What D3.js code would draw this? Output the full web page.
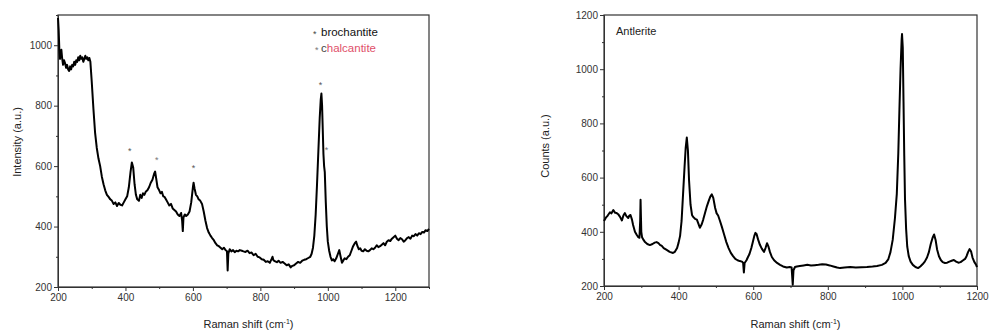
<!DOCTYPE html>
<html>
<head>
<meta charset="utf-8">
<script src="https://cdn.jsdelivr.net/npm/d3@7"></script>
<style>
  body { margin: 0; background: #fff; }
  svg { font-family: "Liberation Sans", Arial, sans-serif; }
  .axis path, .axis line { stroke: #333; }
  .axis text { fill: #333; font-size: 10px; }
</style>
</head>
<body>
<div id="chart"></div>
<script>
// left spectrum (brochantite / chalcantite)
const leftShift = [200,202,204,206,208,210,212,215,218,221,224,227,230,233,236,239,242,245,248,251,254,257,260,263,266,269,272,275,278,281,284,287,290,293,296,
  300,305,310,315,320,325,330,335,340,345,350,355,360,365,370,375,380,385,390,395,400,405,410,415,419,423,427,431,435,440,444,448,452,456,460,465,470,475,480,485,488,491,495,
  500,504,508,512,516,520,525,530,535,540,545,550,555,560,565,568,570,572,576,580,585,590,595,600,602,605,609,613,617,622,627,632,637,642,647,652,657,662,667,672,677,682,687,692,697,
  701,703,705,709,714,719,724,729,734,739,745,750,756,762,768,774,780,786,792,798,804,810,816,822,828,833,836,839,844,849,854,860,866,872,878,884,890,895,
  900,906,912,918,924,930,936,942,948,952,956,960,964,968,972,976,979,981,983,985,987,989,991,994,997,
  1000,1004,1008,1012,1016,1020,1025,1030,1034,1038,1042,1046,1050,1055,1060,1065,1070,1075,1080,1084,1088,1092,1096,
  1100,1105,1110,1115,1120,1125,1130,1135,1140,1145,1150,1155,1160,1165,1170,1175,1180,1185,1190,1195,
  1200,1205,1210,1215,1220,1225,1230,1235,1240,1245,1250,1255,1260,1265,1270,1275,1280,1285,1290,1295,1300];
const leftIntensity = [1090,1050,985,955,975,985,960,935,950,940,925,935,920,915,930,920,935,930,945,935,950,945,960,950,965,955,960,945,955,965,955,960,950,958,945,
  880,790,710,660,625,600,565,540,520,505,498,490,485,475,480,468,478,472,470,480,490,500,530,580,612,595,540,505,490,485,505,495,510,505,515,520,530,545,555,575,582,560,530,
  520,510,515,500,498,490,480,470,475,460,455,450,440,435,445,420,385,430,440,435,440,450,480,530,545,525,505,500,490,485,475,450,420,395,380,370,362,355,345,338,335,330,325,330,322,
  318,255,310,325,318,322,315,320,318,322,320,318,316,320,312,314,305,310,300,298,292,290,283,285,280,292,300,288,285,282,287,280,283,278,272,275,265,270,
  272,278,283,280,287,290,292,296,300,310,330,370,440,540,650,760,820,840,800,720,640,600,580,480,400,
  350,320,300,288,292,285,295,310,322,300,280,288,295,292,300,305,320,335,345,350,335,325,328,
  320,318,325,320,318,322,328,325,330,338,332,335,340,345,338,350,355,352,360,365,
  370,360,355,362,358,350,355,362,365,360,370,368,375,370,378,375,382,380,388,385,392];

// right spectrum (antlerite)
const rightShift = [200,205,210,216,220,225,230,234,238,243,248,252,256,260,265,268,271,275,278,283,288,292,295,297,298,
  300,302,306,310,316,323,330,336,341,346,350,355,360,368,376,385,390,396,400,404,408,412,416,419,422,425,428,432,436,439,444,449,453,457,462,466,471,476,481,485,489,493,498,
  502,506,511,516,522,528,534,540,546,552,558,564,570,573,575,577,582,586,590,595,599,603,606,609,613,618,623,629,633,637,641,645,650,656,664,672,680,690,698,
  703,706,708,712,717,725,735,745,755,765,775,785,795,805,815,825,833,845,860,875,890,
  905,920,932,945,955,962,968,974,980,985,989,992,995,998,999,
  1001,1003,1005,1007,1010,1013,1017,1022,1028,1035,1042,1048,1054,1060,1066,1071,1076,1081,1085,1089,1093,1098,
  1103,1108,1114,1120,1126,1132,1138,1144,1150,1156,1162,1168,1172,1176,1180,1184,1188,1193,1197,1200];
const rightCounts = [440,452,460,472,468,480,470,469,465,455,442,460,469,458,451,460,462,445,425,400,388,380,378,440,518,
  400,380,370,362,355,351,355,360,362,358,352,348,340,333,326,322,326,340,360,385,440,540,640,710,748,700,590,500,462,455,448,445,430,415,428,445,470,495,515,530,538,525,488,
  468,460,440,418,390,362,340,322,310,300,295,292,290,285,250,285,295,307,318,340,362,385,396,392,372,352,338,326,340,358,345,325,307,295,285,278,272,268,270,
  268,205,258,270,272,274,276,278,276,277,278,280,279,276,272,268,266,268,270,268,269,
  270,272,274,278,285,298,325,370,450,540,690,850,1000,1110,1130,
  1080,880,680,520,410,345,310,290,278,270,266,272,280,290,305,325,355,378,390,370,335,310,
  296,288,285,286,290,293,296,290,286,288,294,300,310,325,336,328,305,288,280,270];

const leftXTicks = [200, 400, 600, 800, 1000, 1200];
const leftYTicks = [200, 400, 600, 800, 1000];
const rightXTicks = [200, 400, 600, 800, 1000, 1200];
const rightYTicks = [200, 400, 600, 800, 1000, 1200];

// peak markers [shift, intensity]
const brochantiteMarks = [[413, 656], [602, 600], [978, 874]];
const chalcantiteMarks = [[493, 626], [996, 660]];

const width = 990, height = 333;
const svg = d3.select('#chart').append('svg')
  .attr('width', width)
  .attr('height', height);

function drawPanel(opt) {
  const w = opt.right - opt.left;
  const h = opt.bottom - opt.top;

  const x = d3.scaleLinear().domain(opt.xDomain).range([0, w]);
  const y = d3.scaleLinear().domain(opt.yDomain).range([h, 0]);

  const g = svg.append('g')
    .attr('transform', 'translate(' + opt.left + ',' + opt.top + ')');

  // minor ticks
  const minorX = d3.range(opt.xDomain[0], opt.xDomain[1] + 1, 100).filter(v => opt.xTicks.indexOf(v) < 0);
  const minorY = d3.range(opt.yDomain[0], opt.yDomain[1] + 1, 100).filter(v => opt.yTicks.indexOf(v) < 0);

  g.append('g')
    .attr('class', 'axis')
    .attr('transform', 'translate(0,' + h + ')')
    .call(d3.axisBottom(x).tickValues(minorX).tickSize(2).tickFormat('').tickSizeOuter(0));
  g.append('g')
    .attr('class', 'axis')
    .call(d3.axisLeft(y).tickValues(minorY).tickSize(2).tickFormat('').tickSizeOuter(0));

  // major axes
  g.append('g')
    .attr('class', 'axis')
    .attr('transform', 'translate(0,' + h + ')')
    .call(d3.axisBottom(x).tickValues(opt.xTicks).tickFormat(d3.format('d'))
      .tickSize(4).tickSizeOuter(0).tickPadding(3));
  g.append('g')
    .attr('class', 'axis')
    .call(d3.axisLeft(y).tickValues(opt.yTicks).tickFormat(d3.format('d'))
      .tickSize(4).tickSizeOuter(0).tickPadding(2));

  // frame
  g.append('rect')
    .attr('width', w)
    .attr('height', h)
    .attr('fill', 'none')
    .attr('stroke', '#333')
    .attr('stroke-width', 1.2);

  const line = d3.line()
    .x((d, i) => x(opt.xs[i]))
    .y(d => y(d));

  g.append('path')
    .datum(opt.ys)
    .attr('fill', 'none')
    .attr('stroke', '#000')
    .attr('stroke-width', 2)
    .attr('stroke-linejoin', 'round')
    .attr('d', line);

  // axis titles
  const xt = svg.append('text')
    .attr('x', opt.left + w / 2 + 5)
    .attr('y', 328)
    .attr('text-anchor', 'middle')
    .attr('font-size', 11)
    .attr('fill', '#222');
  xt.append('tspan').text('Raman shift (cm');
  xt.append('tspan').attr('font-size', 7).attr('dy', -4).text('-1');
  xt.append('tspan').attr('dy', 4).text(')');

  svg.append('text')
    .attr('transform', 'translate(' + opt.yTitleX + ',' + opt.yTitleY + ') rotate(-90)')
    .attr('text-anchor', 'middle')
    .attr('font-size', 11)
    .attr('fill', '#222')
    .text(opt.yTitle);

  return { g, x, y };
}

const left = drawPanel({
  left: 58, right: 429, top: 15, bottom: 287,
  xDomain: [200, 1300], yDomain: [200, 1100],
  xTicks: leftXTicks, yTicks: leftYTicks,
  xs: leftShift, ys: leftIntensity,
  yTitle: 'Intensity (a.u.)', yTitleX: 21, yTitleY: 142
});

const right = drawPanel({
  left: 604, right: 977, top: 15, bottom: 286,
  xDomain: [200, 1200], yDomain: [200, 1200],
  xTicks: rightXTicks, yTicks: rightYTicks,
  xs: rightShift, ys: rightCounts,
  yTitle: 'Counts (a.u.)', yTitleX: 549, yTitleY: 146
});

// peak markers
left.g.selectAll('.mark-b')
  .data(brochantiteMarks)
  .enter().append('text')
  .attr('class', 'mark-b')
  .attr('x', d => left.x(d[0]))
  .attr('y', d => left.y(d[1]) + 5)
  .attr('text-anchor', 'middle')
  .attr('font-size', 9)
  .attr('fill', '#555')
  .text('*');

left.g.selectAll('.mark-c')
  .data(chalcantiteMarks)
  .enter().append('text')
  .attr('class', 'mark-c')
  .attr('x', d => left.x(d[0]))
  .attr('y', d => left.y(d[1]) + 5)
  .attr('text-anchor', 'middle')
  .attr('font-size', 9)
  .attr('fill', '#777')
  .text('*');

// legend
svg.append('text').attr('x', 313).attr('y', 37).attr('font-size', 9).attr('fill', '#444').text('*');
svg.append('text').attr('x', 321).attr('y', 36).attr('font-size', 11.5).attr('fill', '#111').text('brochantite');
svg.append('text').attr('x', 315).attr('y', 53).attr('font-size', 9).attr('fill', '#777').text('*');
const chal = svg.append('text').attr('x', 321).attr('y', 52).attr('font-size', 11.5);
chal.append('tspan').attr('fill', '#444').text('c');
chal.append('tspan').attr('fill', '#e0506a').text('halcantite');

// panel label
svg.append('text')
  .attr('x', 616).attr('y', 35)
  .attr('font-size', 11)
  .attr('fill', '#222')
  .text('Antlerite');
</script>
</body>
</html>
